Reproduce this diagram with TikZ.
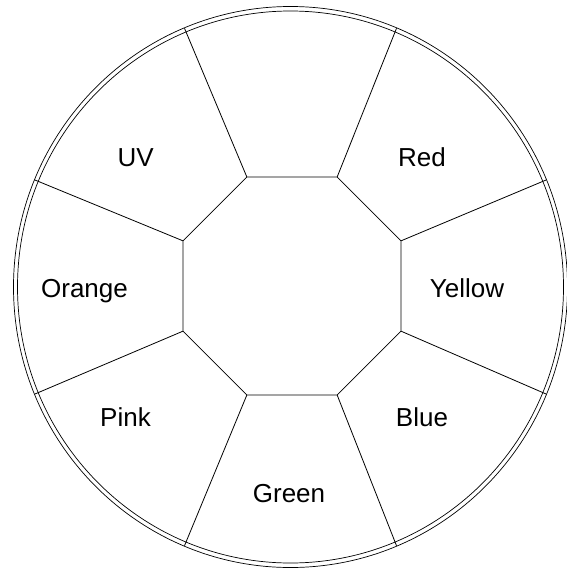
\documentclass[tikz,border=0pt]{standalone}
\usepackage{fontspec}
\setmainfont{Liberation Sans}
\begin{document}
\begin{tikzpicture}[x=1pt,y=-1pt,
  lbl/.style={font=\fontsize{26}{30}\selectfont, anchor=base, inner sep=0pt},
  ring/.style={line width=0.7pt},
  edge/.style={line width=0.8pt}]
\useasboundingbox (0,0) rectangle (567,570);
\coordinate (c) at (292,286);
\foreach \i in {0,...,7} {
  \pgfmathsetmacro\a{22.5+45*\i}
  \coordinate (v\i) at ({292+118*cos(\a)},{286+118*sin(\a)});
  \coordinate (e\i) at ({290.5+277*cos(\a)},{287+280*sin(\a)});
}
% rings
\draw[ring] (290.5,287) ellipse[x radius=277, y radius=280.5];
\draw[ring] (290.5,287) ellipse[x radius=273, y radius=276];
% octagon
\draw[edge] (v0) -- (v1) -- (v2) -- (v3) -- (v4) -- (v5) -- (v6) -- (v7) -- cycle;
% spokes
\foreach \i in {0,...,7} {
  \draw[edge] (v\i) -- (e\i);
}
% labels
\node[lbl] (uv) at (135.6,166.4) {UV};
\node[lbl] (red) at (422,166.4) {Red};
\node[lbl] (orange) at (84.5,297) {Orange};
\node[lbl] (yellow) at (467,297) {Yellow};
\node[lbl] (pink) at (125.5,426.8) {Pink};
\node[lbl] (blue) at (422,426.8) {Blue};
\node[lbl] (green) at (289,502) {Green};
\end{tikzpicture}
\end{document}
